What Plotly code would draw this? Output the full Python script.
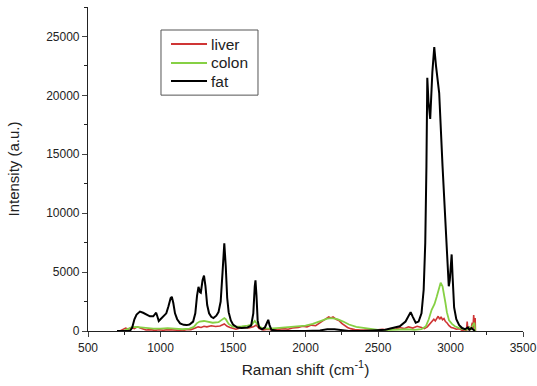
import plotly.graph_objects as go

# Raman shift (cm-1) / intensity values
fat_x = [700, 750, 790, 805, 820, 835, 858, 880, 900, 927, 950, 962, 970, 978, 988, 1000, 1020, 1040,
         1055, 1070, 1078, 1088, 1100, 1115, 1135, 1160, 1180, 1200, 1225, 1240, 1252, 1262, 1272, 1278,
         1290, 1300, 1310, 1322, 1335, 1350, 1365, 1385, 1400, 1415, 1428, 1440, 1450, 1460, 1470, 1485,
         1500, 1530, 1560, 1600, 1625, 1640, 1650, 1655, 1662, 1670, 1680, 1700, 1720, 1735, 1743, 1752,
         1765, 1800, 1900, 2000, 2100, 2150, 2200, 2250, 2300, 2400, 2500, 2550, 2600, 2650, 2690, 2710,
         2725, 2740, 2760, 2780, 2800, 2815, 2826, 2834, 2840, 2848, 2860, 2875, 2888, 2900, 2922, 2945,
         2970, 2980, 2988, 2995, 3003, 3008, 3015, 3025, 3040, 3060, 3080, 3100, 3120, 3130, 3145, 3160,
         3168]
fat_y = [0, 0, 20, 300, 1000, 1400, 1650, 1550, 1400, 1250, 1250, 1400, 1550, 1250, 850, 1000, 1250, 1500,
         2100, 2800, 2900, 2400, 1500, 1000, 650, 520, 500, 550, 800, 1500, 3000, 3750, 3300, 3250,
         4300, 4700, 3800, 2200, 1500, 1200, 1100, 1300, 1600, 2500, 5000, 7450, 5500, 2800, 1600, 900,
         550, 300, 250, 300, 450, 1500, 3800, 4300, 3000, 900, 300, 150, 300, 800, 950, 500,
         100, 20, 0, 0, 50, 150, 150, 50, 0, 0, 50, 100, 250, 400, 800, 1300,
         1600, 1200, 700, 800, 1500, 3500, 7500, 14000, 21500, 19500, 18000, 22000, 24100, 22500, 20200, 14000,
         7500, 5000, 3800, 4300, 6300, 6500, 4500, 2000, 1000, 500, 250, 150, 300, 100, 250, 50,
         0]

colon_x = [740, 770, 800, 830, 860, 900, 950, 1000, 1050, 1100, 1150, 1200, 1230, 1250, 1270, 1300, 1330,
           1360, 1400, 1420, 1440, 1450, 1470, 1500, 1530, 1560, 1600, 1630, 1650, 1660, 1680, 1700, 1750,
           1800, 1850, 1900, 1950, 2000, 2050, 2100, 2150, 2180, 2220, 2260, 2300, 2350, 2400, 2450, 2500,
           2550, 2600, 2650, 2700, 2750, 2800, 2830, 2850, 2870, 2890, 2905, 2920, 2932, 2945, 2955, 2965,
           2975, 2990, 3010, 3030, 3060, 3090, 3110, 3130, 3140, 3155, 3165, 3170]
colon_y = [0, 150, 300, 350, 300, 250, 200, 200, 250, 200, 150, 200, 350, 650, 800, 850, 800,
           700, 750, 900, 1100, 1000, 600, 350, 350, 400, 450, 550, 850, 700, 400, 250, 200,
           250, 300, 350, 400, 450, 600, 850, 1050, 1100, 1000, 800, 550, 350, 250, 150, 100,
           80, 100, 150, 150, 100, 150, 400, 1000, 1800, 2300, 2900, 3600, 4100, 3800, 3200, 2400,
           1600, 900, 600, 400, 250, 150, 100, 300, 150, 500, 700, 0]

liver_x = [720, 740, 760, 780, 800, 820, 840, 860, 880, 900, 930, 960, 990, 1020, 1050, 1080, 1110, 1150,
           1180, 1210, 1240, 1260, 1280, 1300, 1320, 1350, 1380, 1410, 1440, 1460, 1480, 1500, 1520, 1550,
           1580, 1610, 1640, 1660, 1680, 1710, 1740, 1770, 1800, 1850, 1880, 1910, 1950, 1980, 2010, 2040,
           2070, 2100, 2120, 2140, 2160, 2175, 2190, 2210, 2230, 2250, 2270, 2290, 2310, 2340, 2380, 2420,
           2460, 2500, 2530, 2560, 2590, 2620, 2650, 2680, 2710, 2740, 2770, 2800, 2820, 2840, 2860, 2875,
           2885, 2895, 2905, 2915, 2925, 2935, 2945, 2955, 2965, 2975, 2990, 3005, 3020, 3040, 3060, 3080,
           3100, 3110, 3115, 3120, 3130, 3140, 3150, 3155, 3160, 3165, 3170, 3172]
liver_y = [0, 100, 250, 150, 300, 200, 350, 250, 150, 80, 120, 50, 100, 60, 120, 80, 50, 40,
           100, 120, 250, 350, 300, 400, 350, 450, 380, 420, 600, 400, 300, 200, 150, 250,
           300, 250, 350, 500, 200, 100, 150, 100, 150, 200, 150, 250, 300, 400, 350, 500,
           450, 700, 900, 1050, 1200, 1100, 1200, 1000, 900, 650, 450, 300, 200, 120, 80, 60,
           80, 100, 150, 100, 200, 150, 300, 200, 350, 250, 400, 300, 200, 350, 600, 800,
           1000, 850, 1100, 1250, 1000, 1200, 950, 1050, 800, 700, 450, 300, 250, 150, 200, 50,
           100, 0, 800, 100, 300, 100, 700, 200, 1350, 300, 1100, 0]

series_names = ["liver", "colon", "fat"]
x_ticks = [500, 1000, 1500, 2000, 2500, 3000, 3500]
x_labels = ["500", "1000", "1500", "2000", "2500", "3000", "3500"]
y_ticks = [0, 5000, 10000, 15000, 20000, 25000]
y_labels = ["0", "5000", "10000", "15000", "20000", "25000"]

colors = {"liver": "#cf3535", "colon": "#86d044", "fat": "#000000"}
widths = {"liver": 1.6, "colon": 1.8, "fat": 2.0}
data = {"liver": (liver_x, liver_y), "colon": (colon_x, colon_y), "fat": (fat_x, fat_y)}

fig = go.Figure()
for name in series_names:
    xs, ys = data[name]
    fig.add_trace(go.Scatter(x=xs, y=ys, mode="lines", name=name, showlegend=False,
                             line=dict(color=colors[name], width=widths[name])))

font = "Liberation Sans, Arial, sans-serif"

# Legend box drawn in paper coordinates (Origin-style legend)
fig.add_shape(type="rect", xref="paper", yref="paper", x0=0.1678, x1=0.3908, y0=0.728, y1=0.929,
              line=dict(color="#555555", width=1), fillcolor="white", layer="above")
leg_y = [0.8858, 0.8272, 0.7716]
for name, yy in zip(series_names, leg_y):
    fig.add_shape(type="line", xref="paper", yref="paper", x0=0.1908, x1=0.2736, y0=yy, y1=yy,
                  line=dict(color=colors[name], width=2), layer="above")
    fig.add_annotation(xref="paper", yref="paper", x=0.2782, y=yy, text=name, showarrow=False,
                       xanchor="left", yanchor="middle",
                       font=dict(size=15.5, family=font, color="#222222"))

fig.update_layout(
    width=537, height=386,
    margin=dict(l=88, r=14, t=7, b=55, autoexpand=False),
    paper_bgcolor="white", plot_bgcolor="white",
    font=dict(family=font, color="#222222"),
    showlegend=False,
    xaxis=dict(range=[500, 3500], tickvals=x_ticks, ticktext=x_labels, ticks="outside", ticklen=5, tickwidth=1.2,
               showline=True, linecolor="#222222", linewidth=1.2, showgrid=False, zeroline=False,
               tickfont=dict(size=12), automargin=False,
               minor=dict(ticks="outside", ticklen=3, dtick=250, tick0=500, tickcolor="#222222", showgrid=False),
               title=dict(text="Raman shift (cm<sup>-1</sup>)", font=dict(size=15.5), standoff=10)),
    yaxis=dict(range=[0, 27500], tickvals=y_ticks, ticktext=y_labels, ticks="outside", ticklen=5, tickwidth=1.2,
               showline=True, linecolor="#222222", linewidth=1.2, showgrid=False, zeroline=False,
               tickfont=dict(size=12), automargin=False,
               minor=dict(ticks="outside", ticklen=3, dtick=2500, tick0=0, tickcolor="#222222", showgrid=False),
               title=dict(text="Intensity (a.u.)", font=dict(size=15), standoff=22)),
)

fig.write_html("out.html", config={"displayModeBar": False},
               post_script="document.body.style.margin='0';")
